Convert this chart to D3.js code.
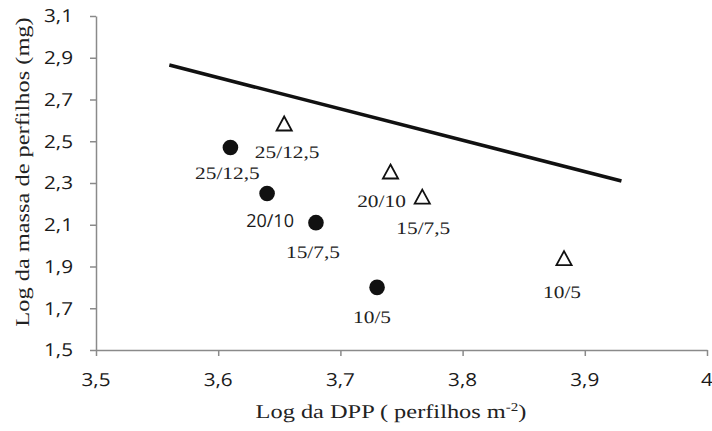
<!DOCTYPE html>
<html>
<head>
<meta charset="utf-8">
<script src="https://cdn.jsdelivr.net/npm/d3@7"></script>
<style>
  body { margin: 0; background: #fff; }
  svg { display: block; }
  text { text-rendering: geometricPrecision; }
</style>
</head>
<body>
<div id="chart"></div>
<script>
// axis ticks
const xTicks = [3.5, 3.6, 3.7, 3.8, 3.9, 4];
const yTicks = [1.5, 1.7, 1.9, 2.1, 2.3, 2.5, 2.7, 2.9, 3.1];

// filled circles
const circleX = [3.61, 3.64, 3.68, 3.73];
const circleY = [2.47, 2.25, 2.11, 1.80];
const circleLabels = ["25/12,5", "20/10", "15/7,5", "10/5"];

// open triangles
const triX = [3.654, 3.741, 3.767, 3.883];
const triY = [2.585, 2.355, 2.235, 1.94];
const triLabels = ["25/12,5", "20/10", "15/7,5", "10/5"];

// reference line
const lineX = [3.56, 3.93];
const lineY = [2.865, 2.31];

const width = 712, height = 431;
const serif = "'Liberation Serif', 'Times New Roman', serif";
const sans = "'Open Sans', 'Liberation Sans', sans-serif";
const axisColor = "#8a8a8a";

const svg = d3.select("#chart").append("svg")
    .attr("width", width)
    .attr("height", height);

const x = d3.scaleLinear().domain([3.5, 4]).range([96, 707]);
const y = d3.scaleLinear().domain([1.5, 3.1]).range([350, 16]);

const fmt = d => String(d).replace(".", ",");

// stretched text helper (the source fonts are wider than ours)
function label(parent, px, py, txt, opts) {
    const g = parent.append("g")
        .attr("transform", "translate(" + px + "," + py + ")" + (opts.rotate ? " rotate(" + opts.rotate + ")" : "") + " scale(" + opts.sx + ",1)");
    const t = g.append("text")
        .attr("text-anchor", opts.anchor || "middle")
        .attr("dy", "0.35em")
        .style("font-family", opts.font)
        .style("font-size", opts.size + "px")
        .style("fill", opts.color || "#222")
        .text(txt);
    return t;
}

// x axis
const xAxis = svg.append("g")
    .attr("transform", "translate(0," + y(1.5) + ")")
    .call(d3.axisBottom(x).tickValues(xTicks).tickSize(6).tickSizeOuter(0).tickFormat(""));
xAxis.select(".domain").attr("stroke", axisColor).attr("stroke-width", 1.5);
xAxis.selectAll(".tick line").attr("stroke", axisColor).attr("stroke-width", 1.5);

// y axis
const yAxis = svg.append("g")
    .attr("transform", "translate(" + x(3.5) + ",0)")
    .call(d3.axisLeft(y).tickValues(yTicks).tickSize(6).tickSizeOuter(0).tickFormat(""));
yAxis.select(".domain").attr("stroke", axisColor).attr("stroke-width", 1.5);
yAxis.selectAll(".tick line").attr("stroke", axisColor).attr("stroke-width", 1.5);

const txt = svg.append("g");
xTicks.forEach(v => label(txt, x(v), 380, fmt(v), {font: sans, size: 18, sx: 1.15, color: "#1a1a1a"}));
yTicks.forEach(v => label(txt, 73, y(v), fmt(v), {font: sans, size: 18, sx: 1.15, anchor: "end", color: "#1a1a1a"}));

// axis titles
const xt = label(txt, 391, 411, "Log da DPP ( perfilhos m", {font: serif, size: 19.5, sx: 1.25});
xt.append("tspan").attr("baseline-shift", "super").style("font-size", "12px").text("-2");
xt.append("tspan").text(")");
label(txt, 22, 172, "Log da massa de perfilhos (mg)", {font: serif, size: 19.5, sx: 1.25, rotate: -90});

// line
const line = d3.line().x(d => x(d[0])).y(d => y(d[1]));
svg.append("path")
    .datum(d3.zip(lineX, lineY))
    .attr("d", line)
    .attr("fill", "none")
    .attr("stroke", "#111")
    .attr("stroke-width", 3.6);

// circles
svg.append("g").selectAll("circle")
    .data(d3.zip(circleX, circleY))
    .join("circle")
    .attr("cx", d => x(d[0]))
    .attr("cy", d => y(d[1]))
    .attr("r", 7.8)
    .attr("fill", "#111");

// triangles
svg.append("g").selectAll("path")
    .data(d3.zip(triX, triY))
    .join("path")
    .attr("transform", d => "translate(" + x(d[0]) + "," + y(d[1]) + ")")
    .attr("d", "M0,-7 L7.6,7 L-7.6,7 Z")
    .attr("fill", "#fff")
    .attr("stroke", "#111")
    .attr("stroke-width", 1.8)
    .attr("stroke-linejoin", "miter");

// point labels
const circleLabelDx = [-3, 3, -3, -5];
const circleLabelDy = [25, 27, 29, 29];
const triLabelDx = [3, -9, 1, -2];
const triLabelDy = [28, 29, 31, 34];

circleLabels.forEach((s, i) => {
    const isSans = i === 1;
    label(txt, x(circleX[i]) + circleLabelDx[i], y(circleY[i]) + circleLabelDy[i], s,
        isSans ? {font: sans, size: 18, sx: 1.0, color: "#1a1a1a"} : {font: serif, size: 17.5, sx: 1.22});
});
triLabels.forEach((s, i) => {
    label(txt, x(triX[i]) + triLabelDx[i], y(triY[i]) + triLabelDy[i], s,
        {font: serif, size: 17.5, sx: 1.22});
});
</script>
</body>
</html>
